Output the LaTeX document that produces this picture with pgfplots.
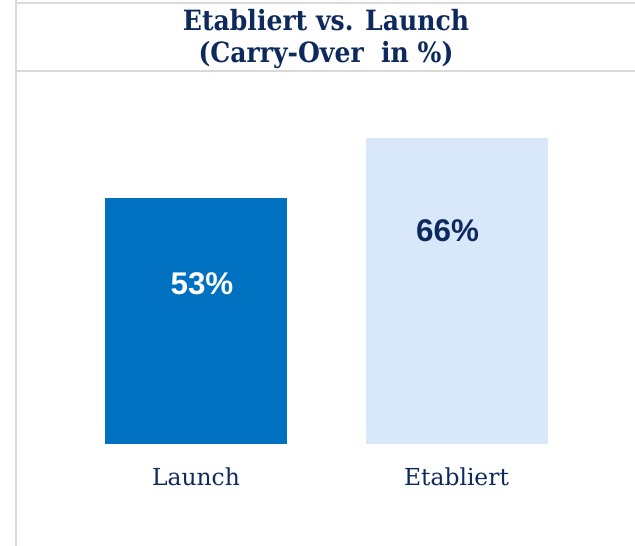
\documentclass[border=0pt]{standalone}
\usepackage{pgfplots}
\pgfplotsset{compat=1.18}
\usepackage{fontspec}
\setmainfont{DejaVu Serif}
\newfontfamily\titlefont{DejaVu Serif Condensed}
\newfontfamily\sansfont{Liberation Sans}
\definecolor{navy}{HTML}{0E2A5C}
\definecolor{barblue}{HTML}{0070C0}
\definecolor{barlight}{HTML}{D9E7FB}
\definecolor{frame}{HTML}{D9D9D9}
\begin{document}
\begin{tikzpicture}[x=1bp,y=1bp]
\useasboundingbox (0,0) rectangle (635,546);
% frame lines
\draw[frame, line width=2.2bp] (16,0) -- (16,546);
\draw[frame, line width=2.2bp] (15,543) -- (635,543);
\draw[frame, line width=2bp] (15,475) -- (635,475);
% title
\node[text=navy, font=\titlefont\bfseries\fontsize{28}{33}\selectfont, align=center] at (326,507)
  {Etabliert vs. Launch\\(Carry-Over \ in \%)};
\begin{axis}[
  at={(65.75bp,102bp)}, anchor=south west,
  scale only axis, width=521bp, height=371bp,
  xmin=-0.5, xmax=1.5, ymin=0, ymax=80,
  axis lines=none, clip=false,
  xtick=\empty, ytick=\empty,
  ybar, bar width=182bp,
]
\addplot[ybar, bar shift=0pt, fill=barblue, draw=none] coordinates {(0,53)};
\addplot[ybar, bar shift=0pt, fill=barlight, draw=none] coordinates {(1,66)};
\addplot[only marks, mark=none, bar shift=0pt, point meta=explicit symbolic,
  nodes near coords, every node near coord/.append style={anchor=center, xshift=6bp, text=white, font=\sansfont\bfseries\fontsize{31.5}{36}\selectfont}]
  coordinates {(0,34.5)[53\%]};
\addplot[only marks, mark=none, bar shift=0pt, point meta=explicit symbolic,
  nodes near coords, every node near coord/.append style={anchor=center, xshift=-9bp, text=navy, font=\sansfont\bfseries\fontsize{31.5}{36}\selectfont}]
  coordinates {(1,45.9)[66\%]};
\node[text=navy, font=\fontsize{23.5}{28}\selectfont, anchor=base] at (axis cs:0,-9) {Launch};
\node[text=navy, font=\fontsize{23.5}{28}\selectfont, anchor=base] at (axis cs:1,-9) {Etabliert};
\end{axis}
\end{tikzpicture}
\end{document}
